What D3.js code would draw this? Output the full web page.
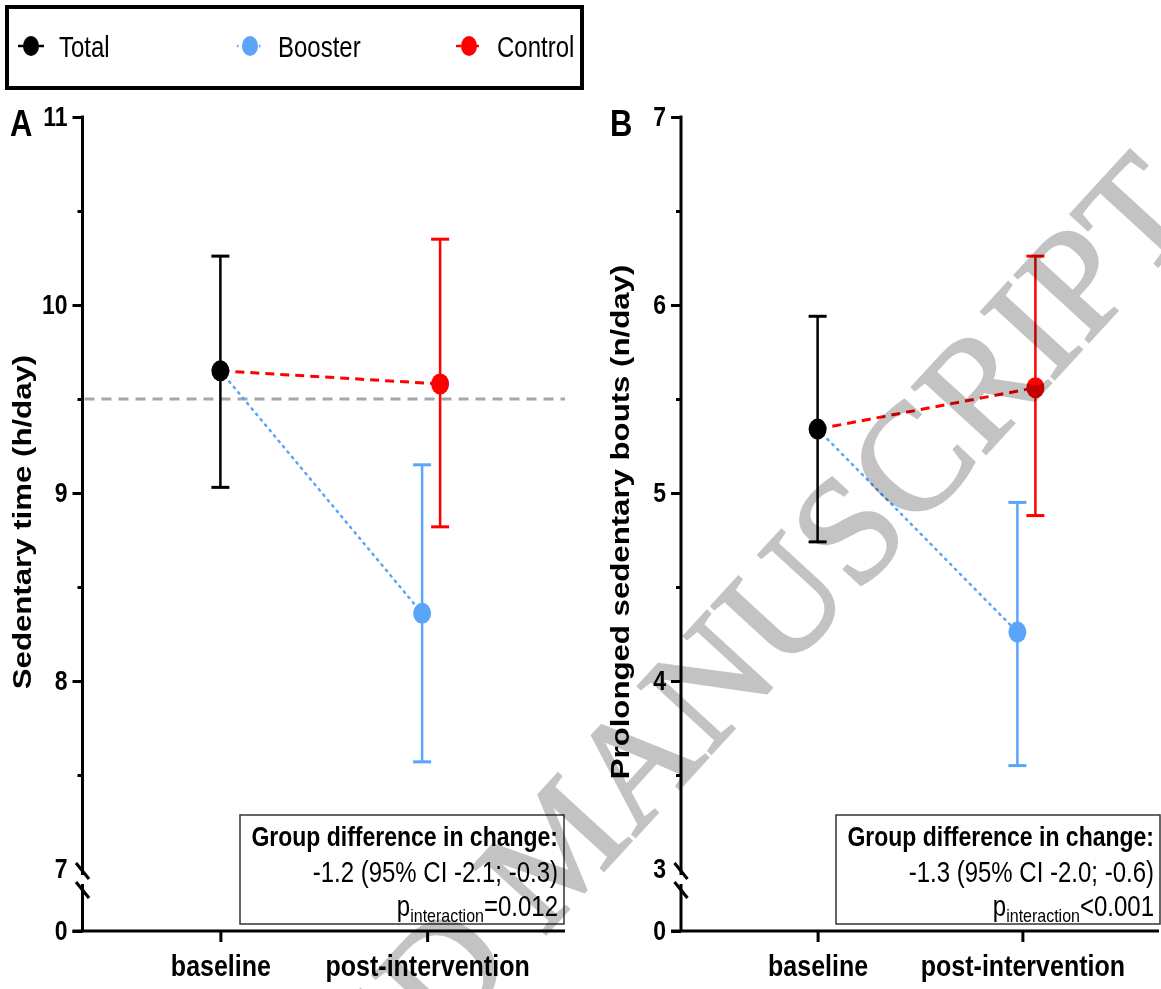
<!DOCTYPE html>
<html>
<head>
<meta charset="utf-8">
<script src="https://cdn.jsdelivr.net/npm/d3@7"></script>
<style>
  body { margin: 0; background: #fff; }
  svg { display: block; font-family: "Liberation Sans", Arial, sans-serif; }
</style>
</head>
<body>
<div class="chart"></div>
<script>
// Data
//= ================================
var timepoints = ["baseline", "post-intervention"];
var groups = ["Total", "Booster", "Control"];
var pointTime = ["baseline", "post-intervention", "post-intervention"];

// Panel A: sedentary time (h/day)
var sedMean = [9.65, 8.36, 9.58];
var sedLow = [9.03, 7.57, 8.82];
var sedHigh = [10.26, 9.15, 10.35];
var sedRef = 9.5;
var sedTicks = [8, 9, 10, 11];
var sedMinor = [7.5, 8.5, 9.5, 10.5];
var sedBreak = 7;

// Panel B: prolonged sedentary bouts (n/day)
var boutMean = [5.34, 4.26, 5.56];
var boutLow = [4.74, 3.55, 4.88];
var boutHigh = [5.94, 4.95, 6.26];
var boutTicks = [4, 5, 6, 7];
var boutMinor = [3.5, 4.5, 5.5, 6.5];
var boutBreak = 3;

var sedNote = ["Group difference in change:", "-1.2 (95% CI -2.1; -0.3)", "=0.012"];
var boutNote = ["Group difference in change:", "-1.3 (95% CI -2.0; -0.6)", "<0.001"];

// Step 0: set up
//= ================================
var svgWidth = 1161;
var svgHeight = 989;
var S = 1.2; // vertical stretch of the original figure's text

var colors = { Total: "#000000", Booster: "#5aa5fa", Control: "#ff0000" };
var offsets = { Total: 0, Booster: -5, Control: 13 };

var svg = d3.select(".chart").append("svg")
  .attr("width", svgWidth)
  .attr("height", svgHeight);

function stext(g, x, y, str, size, weight, anchor, extra) {
  return g.append("text")
    .attr("transform", "translate(" + x + "," + y + ") scale(1," + S + ")" + (extra || ""))
    .attr("text-anchor", anchor || "start")
    .style("font-size", size + "px")
    .style("font-weight", weight || "normal")
    .text(str);
}

// Legend
var legend = svg.append("g");
legend.append("rect")
  .attr("x", 7).attr("y", 7).attr("width", 575).attr("height", 81)
  .attr("fill", "none").attr("stroke", "#000").attr("stroke-width", 4);

var legendX = [31, 250, 469];
var legendDash = { Total: null, Booster: "1.5,4", Control: "5,4" };
groups.forEach(function(gname, i) {
  var cx = legendX[i];
  legend.append("line")
    .attr("x1", cx - 13).attr("x2", cx + 13).attr("y1", 46).attr("y2", 46)
    .attr("stroke", colors[gname]).attr("stroke-width", 2.5)
    .attr("stroke-dasharray", legendDash[gname]);
  legend.append("ellipse")
    .attr("cx", cx).attr("cy", 46).attr("rx", 8).attr("ry", 10)
    .attr("fill", colors[gname]);
  stext(legend, cx + 28, 57, gname, 24, "normal", "start");
});

// Panels
//= ================================
function drawPanel(p) {
  var g = svg.append("g");
  var yTop = 117, yBreak = 869, yZero = 931;

  var y = d3.scaleLinear().domain([p.breakVal, p.ticks[p.ticks.length - 1]]).range([yBreak, yTop]);
  var yLow = d3.scaleLinear().domain([0, p.breakVal]).range([yZero, yBreak]);
  var x = d3.scalePoint().domain(timepoints).range([p.x0, p.x1]).padding(0.667);

  function px(i) { return x(pointTime[i]) + offsets[groups[i]]; }

  // y axis: major, minor, zero and break label
  var major = g.append("g").attr("transform", "translate(" + p.x0 + ",0)")
    .call(d3.axisLeft(y).tickValues(p.ticks).tickSize(10).tickPadding(5).tickFormat(d3.format("d")));
  var minor = g.append("g").attr("transform", "translate(" + p.x0 + ",0)")
    .call(d3.axisLeft(y).tickValues(p.minor).tickSize(5).tickFormat(""));
  var low = g.append("g").attr("transform", "translate(" + p.x0 + ",0)")
    .call(d3.axisLeft(yLow).tickValues([0]).tickSize(10).tickPadding(5).tickFormat(d3.format("d")));
  var brk = g.append("g").attr("transform", "translate(" + p.x0 + ",0)")
    .call(d3.axisLeft(yLow).tickValues([p.breakVal]).tickSize(0).tickPadding(15).tickFormat(d3.format("d")));

  [major, minor, low, brk].forEach(function(a) {
    a.select(".domain").remove();
    a.selectAll("line").attr("stroke", "#000").attr("stroke-width", 3);
    a.selectAll("text")
      .attr("fill", "#000")
      .attr("transform", "scale(1," + S + ")")
      .style("font-size", "23px").style("font-weight", "bold")
      .style("font-family", "'Liberation Sans', Arial, sans-serif");
  });

  // axis line with break
  g.append("line").attr("x1", p.x0).attr("x2", p.x0).attr("y1", yTop - 1.5).attr("y2", yBreak + 6)
    .attr("stroke", "#000").attr("stroke-width", 3);
  g.append("line").attr("x1", p.x0).attr("x2", p.x0).attr("y1", yBreak + 15).attr("y2", yZero)
    .attr("stroke", "#000").attr("stroke-width", 3);
  [0, 19].forEach(function(d) {
    g.append("line")
      .attr("x1", p.x0 - 6.5).attr("y1", yBreak - 6 + d)
      .attr("x2", p.x0 + 6.5).attr("y2", yBreak + 10 + d)
      .attr("stroke", "#000").attr("stroke-width", 3);
  });

  // x axis
  var xa = g.append("g").attr("transform", "translate(0," + yZero + ")")
    .call(d3.axisBottom(x).tickSize(11));
  xa.select(".domain").remove();
  xa.selectAll("line").attr("stroke", "#000").attr("stroke-width", 3);
  xa.selectAll("text")
    .attr("y", 0).attr("dy", 0)
    .attr("fill", "#000")
    .attr("transform", "translate(0,45) scale(1," + S + ")")
    .style("font-size", "25px").style("font-weight", "bold")
    .style("font-family", "'Liberation Sans', Arial, sans-serif");
  g.append("line").attr("x1", p.x0 - 10).attr("x2", p.x1).attr("y1", yZero).attr("y2", yZero)
    .attr("stroke", "#000").attr("stroke-width", 3);

  // reference line
  if (p.ref != null) {
    g.append("line")
      .attr("x1", p.x0 + 2).attr("x2", p.x1)
      .attr("y1", y(p.ref)).attr("y2", y(p.ref))
      .attr("stroke", "#a6a6a6").attr("stroke-width", 3)
      .attr("stroke-dasharray", "10,7");
  }

  // connecting lines from the Total baseline
  g.append("line")
    .attr("x1", px(0)).attr("y1", y(p.mean[0])).attr("x2", px(1)).attr("y2", y(p.mean[1]))
    .attr("stroke", colors.Booster).attr("stroke-width", 2.5)
    .attr("stroke-dasharray", "1.5,5.5").attr("stroke-linecap", "round");
  g.append("line")
    .attr("x1", px(0)).attr("y1", y(p.mean[0])).attr("x2", px(2)).attr("y2", y(p.mean[2]))
    .attr("stroke", colors.Control).attr("stroke-width", 3)
    .attr("stroke-dasharray", "9,6");

  // error bars and markers
  groups.forEach(function(gname, i) {
    var cx = px(i);
    g.append("line").attr("x1", cx).attr("x2", cx)
      .attr("y1", y(p.low[i])).attr("y2", y(p.high[i]))
      .attr("stroke", colors[gname]).attr("stroke-width", 2.5);
    [p.low[i], p.high[i]].forEach(function(v) {
      g.append("line").attr("x1", cx - 9).attr("x2", cx + 9)
        .attr("y1", y(v)).attr("y2", y(v))
        .attr("stroke", colors[gname]).attr("stroke-width", 3);
    });
    g.append("ellipse").attr("cx", cx).attr("cy", y(p.mean[i]))
      .attr("rx", 9).attr("ry", 10.5).attr("fill", colors[gname]);
  });

  // annotation box
  g.append("rect")
    .attr("x", p.box[0]).attr("y", 815).attr("width", p.box[1] - p.box[0]).attr("height", 109)
    .attr("fill", "none").attr("stroke", "#333").attr("stroke-width", 1.5);
  var tx = p.box[1] - 6;
  stext(g, tx, 846, p.note[0], 23, "bold", "end");
  stext(g, tx, 882, p.note[1], 24, "normal", "end");
  var t3 = g.append("text")
    .attr("transform", "translate(" + tx + ",916) scale(1," + S + ")")
    .attr("text-anchor", "end")
    .style("font-size", "24px");
  t3.append("tspan").text("p");
  t3.append("tspan").attr("dy", 5).style("font-size", "16px").text("interaction");
  t3.append("tspan").attr("dy", -5).text(p.note[2]);

  // y label and panel letter
  stext(g, p.labelX, 522, p.label, 26, "bold", "middle", " rotate(-90)");
  stext(g, p.letterX, 136, p.letter, 31, "bold", "start");
}

drawPanel({
  x0: 82.5, x1: 565, breakVal: sedBreak, ticks: sedTicks, minor: sedMinor,
  mean: sedMean, low: sedLow, high: sedHigh, ref: sedRef,
  box: [240, 564], note: sedNote,
  label: "Sedentary time (h/day)", labelX: 31, letter: "A", letterX: 10
});
drawPanel({
  x0: 681, x1: 1159, breakVal: boutBreak, ticks: boutTicks, minor: boutMinor,
  mean: boutMean, low: boutLow, high: boutHigh, ref: null,
  box: [836, 1160], note: boutNote,
  label: "Prolonged sedentary bouts (n/day)", labelX: 629, letter: "B", letterX: 610
});

// watermark
svg.append("text")
  .attr("transform", "translate(1205,215) rotate(-47.5)")
  .attr("text-anchor", "end")
  .style("font-family", "'Liberation Serif', 'Times New Roman', serif")
  .style("font-size", "152px")
  .style("mix-blend-mode", "multiply")
  .attr("fill", "#c3c3c3")
  .attr("stroke", "#c3c3c3")
  .attr("stroke-width", 2.5)
  .text("ACCEPTED MANUSCRIPT");
</script>
</body>
</html>
